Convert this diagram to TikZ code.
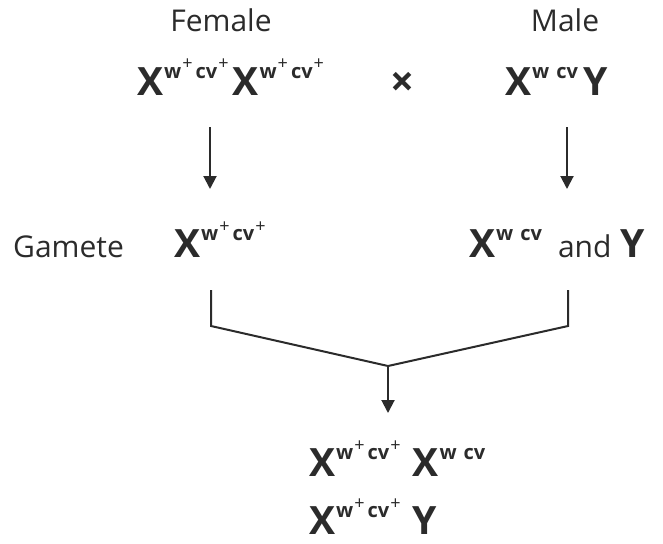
\documentclass[tikz,border=0pt]{standalone}
\usepackage{fontspec}
\setmainfont{Open Sans}
\definecolor{ink}{HTML}{2B2B2B}
\newcommand{\bigX}{{\fontsize{39}{40}\selectfont\bfseries X}}
\newcommand{\bigY}{{\fontsize{39}{40}\selectfont\bfseries Y}}
\newcommand{\supr}[1]{\raisebox{17pt}{\fontsize{20}{20}\selectfont\bfseries #1}}
\newcommand{\pl}{\raisebox{8pt}{\fontsize{18}{18}\selectfont\mdseries +}}
\newcommand{\wt}{\supr{\kern1pt w\kern1pt\pl\kern3pt cv\kern1pt\pl}}
\newcommand{\mt}{\supr{\kern1pt w\kern7pt cv}}
\tikzset{
  lbl/.style={anchor=base, text=ink, font=\fontsize{30}{32}\selectfont, inner sep=0pt},
  geno/.style={anchor=base west, text=ink, inner sep=0pt},
  conn/.style={draw=ink, line width=2pt},
  arr/.style={conn, -{Triangle[length=13pt,width=13pt]}}
}
\usetikzlibrary{arrows.meta}
\begin{document}
\begin{tikzpicture}[x=1pt,y=-1pt]
\useasboundingbox (0,0) rectangle (663,543);
\node[lbl] (female) at (221,32) {Female};
\node[lbl] (male) at (565,32) {Male};
\node[geno] (pf) at (137,95) {\bigX\wt\kern4pt\bigX\wt};
\node[lbl, font=\fontsize{42}{42}\selectfont\bfseries] (cross) at (402,96) {×};
\node[geno] (pm) at (505,95) {\bigX\mt\kern5pt\bigY};
\node[lbl, anchor=base west] (gam) at (13,257) {Gamete};
\node[geno] (gf) at (174,257) {\bigX\wt};
\node[geno] (gm) at (469,257) {\bigX\mt\kern16pt{\fontsize{30}{32}\selectfont and}\kern9pt\bigY};
\node[geno] (o1) at (309,476) {\bigX\wt\kern12pt\bigX\mt};
\node[geno] (o2) at (309,534) {\bigX\wt\kern12pt\bigY};
\coordinate (a1s) at (210,127); \coordinate (a1e) at (210,189);
\coordinate (a2s) at (567,127); \coordinate (a2e) at (567,189);
\coordinate (bl) at (211,290); \coordinate (blc) at (211,326);
\coordinate (br) at (568,290); \coordinate (brc) at (568,326);
\coordinate (mid) at (388,366); \coordinate (tip) at (388,413);
\draw[arr] (a1s) -- (a1e);
\draw[arr] (a2s) -- (a2e);
\draw[conn] (bl) -- (blc) -- (mid) -- (brc) -- (br);
\draw[arr] (mid) -- (tip);
\end{tikzpicture}
\end{document}
